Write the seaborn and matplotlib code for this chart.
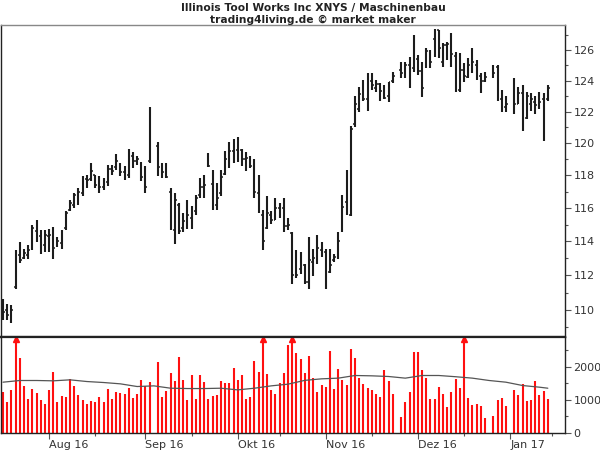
import numpy as np
import pandas as pd
import seaborn as sns
import matplotlib.pyplot as plt
from matplotlib.ticker import FixedLocator, NullFormatter

# weekday slots (holidays stay as empty slots on the axis)
start, end = '2016-07-15', '2017-01-13'
holidays = ['2016-09-05', '2016-11-24', '2016-12-26', '2017-01-02']

high = [110.64, 110.36, 110.25, 113.5, 113.96, 113.55, 113.8, 114.96, 115.26, 114.67,
        114.67, 114.72, 114.84, 114.26, 114.67, 115.85, 116.5, 116.92, 117.22, 117.95,
        118.01, 118.74, 118.01, 117.95, 117.83, 118.62, 118.62, 119.35, 118.74, 118.56,
        119.66, 119.47, 119.23, 118.86, 118.56, 122.27, 120.09, 118.74, 118.74,
        117.22, 116.92, 116.32, 115.73, 116.5, 116.14, 116.8, 117.83, 118.01, 119.41,
        118.32, 117.53, 118.32, 119.54, 120.09, 120.28, 120.4, 119.66, 119.47, 119.23,
        119.05, 118.01, 115.9, 116.74, 115.85, 116.62, 116.32, 116.62, 115.43, 114.55,
        113.5, 113.38, 112.69, 114.26, 113.55, 114.38, 113.96, 113.55, 113.55, 113.26,
        114.55, 116.8, 118.32, 121.08, 122.97, 123.6, 124.05, 124.5, 124.5, 124.05,
        123.86, 123.73, 123.92, 124.57, 125.22, 125.22, 125.54, 126.99, 125.67,
        125.22, 126.13, 126.0, 127.4, 127.33, 126.46, 126.53, 127.12, 125.87, 125.8,
        125.15, 125.48, 126.13, 125.35, 124.5, 124.57, 125.02, 125.02, 123.41,
        122.97, 124.18, 123.6, 123.73, 123.28, 123.22, 122.97, 123.28, 123.22,
        123.73]
low = [109.41, 109.41, 109.24, 111.2, 112.7, 112.97, 112.97, 113.5, 113.96, 113.26,
       113.38, 113.38, 112.97, 113.67, 113.55, 114.67, 115.85, 116.03, 116.2, 116.74,
       117.22, 117.65, 117.22, 116.92, 117.1, 117.35, 118.01, 118.32, 117.95, 117.71,
       117.83, 118.44, 118.62, 117.65, 116.92, 118.74, 117.95, 117.83, 117.83,
       114.67, 113.85, 114.43, 114.55, 114.72, 114.72, 115.6, 116.62, 116.62, 118.5,
       115.9, 115.9, 116.74, 118.01, 118.44, 118.74, 118.86, 118.56, 118.25, 118.44,
       116.62, 115.73, 113.5, 114.72, 115.02, 115.26, 115.43, 114.55, 114.67, 111.49,
       111.83, 112.06, 111.49, 111.2, 111.94, 112.69, 113.09, 111.2, 112.12, 112.8,
       112.97, 114.55, 115.6, 115.55, 121.02, 121.96, 122.65, 122.02, 123.41, 123.28,
       122.65, 122.78, 122.59, 123.86, 124.18, 124.18, 123.54, 124.57, 124.37,
       122.91, 124.83, 124.83, 125.54, 125.48, 124.89, 125.35, 124.89, 123.28, 123.28,
       123.92, 124.18, 124.5, 124.05, 123.22, 123.92, 124.18, 122.65, 121.96,
       121.96, 121.83, 122.46, 120.78, 121.52, 122.02, 121.83, 122.15, 120.16,
       122.65]
opn = [110.4, 110.0, 109.8, 111.3, 113.2, 113.0, 113.2, 113.6, 114.6, 114.3,
       113.8, 114.3, 114.4, 113.8, 113.9, 114.8, 115.9, 116.2, 116.5, 116.9,
       117.8, 117.8, 118.0, 117.5, 117.3, 117.6, 118.4, 118.5, 118.6, 118.2,
       118.0, 119.2, 118.9, 118.7, 117.9, 118.9, 119.8, 118.5, 118.3,
       117.0, 114.7, 116.2, 114.8, 115.1, 115.4, 115.8, 116.8, 117.3, 119.3,
       117.5, 116.2, 116.9, 118.1, 119.0, 119.5, 119.6, 119.6, 119.0, 119.0,
       118.8, 116.9, 115.6, 114.8, 115.6, 115.3, 116.0, 116.0, 114.9, 114.5,
       112.0, 112.4, 112.6, 111.6, 112.8, 113.4, 113.5, 113.4, 112.2, 112.9,
       113.1, 114.6, 116.4, 115.6, 121.2, 122.2, 123.2, 122.8, 124.0, 123.5,
       123.8, 123.1, 123.0, 124.0, 124.7, 124.5, 125.0, 124.8, 125.4,
       124.6, 124.9, 125.8, 126.7, 127.3, 125.2, 126.3, 126.8, 125.6, 123.4,
       124.7, 124.2, 125.3, 125.0, 124.3, 124.0, 124.8, 124.9, 122.8,
       122.3, 123.9, 122.5, 123.2, 121.6, 122.5, 122.6, 122.9, 122.8,
       122.8]
close = [109.9, 109.7, 110.0, 113.1, 112.9, 113.3, 113.5, 114.8, 114.3, 113.8,
         114.4, 114.4, 113.6, 114.0, 114.5, 115.7, 116.3, 116.8, 117.0, 117.8,
         117.7, 118.3, 117.4, 117.3, 117.7, 118.4, 118.3, 118.9, 118.2, 118.0,
         119.3, 118.9, 119.0, 117.9, 117.3, 120.0, 118.5, 118.2, 117.9,
         114.9, 116.5, 114.6, 115.2, 115.6, 115.0, 116.6, 117.3, 117.4, 118.6,
         116.3, 116.6, 117.9, 119.0, 119.5, 119.4, 120.0, 119.0, 119.1, 118.6,
         117.0, 116.0, 114.0, 115.7, 115.3, 116.0, 115.8, 114.9, 115.0, 112.0,
         112.0, 112.6, 111.6, 112.9, 113.0, 113.6, 113.2, 111.6, 112.6, 113.1,
         114.0, 116.1, 117.6, 120.9, 122.5, 123.1, 122.8, 124.0, 123.7, 123.8,
         123.3, 122.9, 123.9, 124.3, 124.5, 125.0, 124.0, 125.4, 124.6,
         123.5, 125.9, 125.2, 126.3, 126.1, 126.3, 126.4, 125.7, 123.5, 124.7,
         124.3, 125.0, 125.2, 124.2, 124.0, 124.2, 124.5, 122.8, 122.3,
         122.5, 122.5, 123.2, 121.5, 123.0, 122.8, 122.4, 122.6, 122.2,
         123.5]
volume = [1250, 930, 1300, 3600, 2260, 1420, 1020, 1330, 1220, 990,
          880, 1300, 1850, 950, 1120, 1080, 1630, 1420, 1150, 1000,
          880, 970, 950, 1100, 950, 1320, 1020, 1240, 1220, 1180,
          1350, 1050, 1170, 1610, 1420, 1550, 2130, 1080, 1280,
          1810, 1560, 2290, 1610, 1000, 1740, 1020, 1740, 1540, 1020,
          1120, 1150, 1580, 1500, 1520, 1960, 1610, 1740, 1020, 1080,
          2160, 1830, 3300, 1790, 1300, 1180, 1520, 1810, 2670, 3400,
          2410, 2230, 1810, 2330, 1660, 1250, 1460, 1380, 2480, 1320,
          1930, 1610, 1460, 2540, 2260, 1660, 1490, 1350, 1300, 1170,
          1080, 1890, 1580, 1170, 480, 930, 1230, 2460, 2440,
          1910, 1660, 1020, 1030, 1380, 1170, 800, 1250, 1640, 1370,
          4300, 1050, 850, 870, 830, 440, 520, 1000, 1050,
          820, 1300, 1150, 1490, 980, 1000, 1560, 1150, 1280,
          1030]
# volume average, read every 4th weekday slot plus the last one
vol_avg = [1535, 1586, 1586, 1576, 1606, 1555, 1525, 1485, 1404, 1424,
           1353, 1343, 1343, 1353, 1303, 1353, 1424, 1475, 1590, 1636,
           1657, 1737, 1727, 1707, 1657, 1737, 1737, 1700, 1657, 1586,
           1535, 1434, 1384, 1353]

month_labels = ['Aug 16', 'Sep 16', 'Okt 16', 'Nov 16', 'Dez 16', 'Jan 17']
mid_dates = ['2016-08-16', '2016-09-16', '2016-10-17', '2016-11-16', '2016-12-16']
price_ticks = [110, 112, 114, 116, 118, 120, 122, 124, 126]
vol_ticks = [0, 1000, 2000]

slots = pd.bdate_range(start, end)
trading = slots.drop(pd.to_datetime(holidays))
x = slots.get_indexer(trading)
avg_x = list(range(0, len(slots), 4)) + [len(slots) - 1]

# month ticks at first weekday of the month, minor ticks mid-month
month_pos = [int(np.argmax(slots >= d))
             for d in pd.date_range('2016-08-01', '2017-01-01', freq='MS')]
mid_pos = [slots.get_loc(pd.Timestamp(d)) for d in mid_dates] + [len(slots)]

sns.set_theme(style="ticks")
plt.rcParams['font.family'] = ['DejaVu Sans']

fig = plt.figure(figsize=(6, 4.5), dpi=100)
ax = fig.add_axes([1 / 600, 1 - 337 / 450, 564 / 600, 312 / 450])
ax2 = fig.add_axes([1 / 600, 1 - 433 / 450, 564 / 600, 96 / 450])

xlim = (-0.48, 134.1)
bar_col = '#1c1c1c'
tick_len = 0.42

# price: OHLC bars
ax.vlines(x, low, high, color=bar_col, lw=1.5)
ax.hlines(opn, x - tick_len, x, color=bar_col, lw=1.1)
ax.hlines(close, x, x + tick_len, color=bar_col, lw=1.1)
ax.set_yscale('log')
ax.set_ylim(108.45, 127.65)
ax.set_xlim(*xlim)
ax.yaxis.tick_right()
ax.yaxis.set_major_locator(FixedLocator(price_ticks))
ax.yaxis.set_minor_locator(FixedLocator(np.arange(109, 127.5, 1.0)))
ax.yaxis.set_minor_formatter(NullFormatter())
ax.set_yticklabels([str(t) for t in price_ticks])
ax.set_xticks([])
ax.tick_params(axis='y', which='major', length=4, width=0.8, colors='#555555',
               labelcolor='#333333', labelsize=8, pad=2)
ax.tick_params(axis='y', which='minor', length=2.5, width=0.8, colors='#555555')

# volume
vol = np.asarray(volume)
vmax = 2900
ax2.vlines(x, 0, vol, color='#ff1010', lw=1.5)
sns.lineplot(x=avg_x, y=vol_avg, ax=ax2, color='#555555', lw=0.9)
over = vol > vmax
ax2.plot(x[over], np.full(over.sum(), vmax * 0.975), marker='^', ls='none',
         ms=4.5, color='#ff1010', clip_on=False)
ax2.set_ylim(0, vmax)
ax2.set_xlim(*xlim)
ax2.yaxis.tick_right()
ax2.yaxis.set_major_locator(FixedLocator(vol_ticks))
ax2.yaxis.set_minor_locator(FixedLocator([500, 1500, 2500]))
ax2.set_yticklabels([str(t) for t in vol_ticks])
ax2.xaxis.set_major_locator(FixedLocator(month_pos))
ax2.xaxis.set_minor_locator(FixedLocator(mid_pos))
ax2.set_xticklabels(month_labels, ha='left')
ax2.tick_params(axis='both', which='major', length=4, width=0.8, colors='#555555',
                labelcolor='#333333', labelsize=8, pad=2)
ax2.tick_params(axis='both', which='minor', length=2.5, width=0.8, colors='#555555')
ax2.tick_params(axis='x', pad=1)

for a in (ax, ax2):
    for s in a.spines.values():
        s.set_visible(True)
        s.set_color('#222222')
        s.set_linewidth(1.0)
ax.spines['top'].set_color('#888888')
ax.spines['bottom'].set_linewidth(1.6)
ax2.spines['top'].set_linewidth(1.6)

fig.text(0.522, 1 - 8 / 450, 'Illinois Tool Works Inc XNYS / Maschinenbau',
         ha='center', va='center', fontsize=7.7, weight='bold', color='#222222')
fig.text(0.522, 1 - 20 / 450, 'trading4living.de \u00a9 market maker',
         ha='center', va='center', fontsize=7.7, weight='bold', color='#222222')

fig.savefig('out.png', dpi=100)
